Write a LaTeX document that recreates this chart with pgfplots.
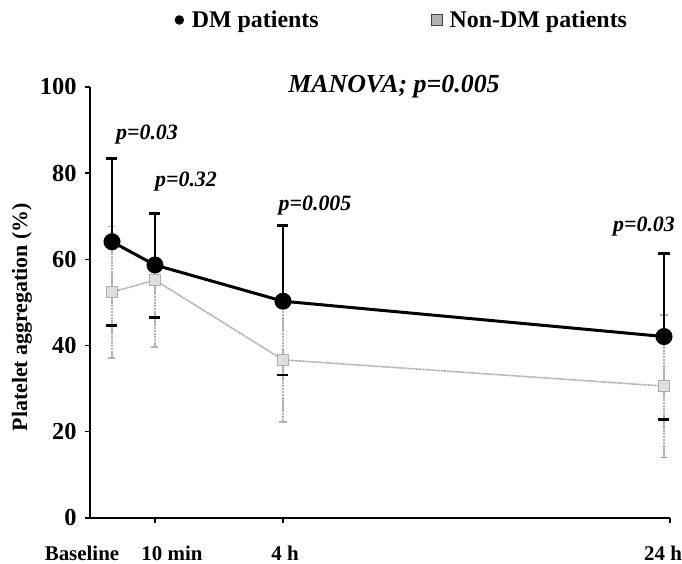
\documentclass[border=0pt]{standalone}
\usepackage{pgfplots}
\pgfplotsset{compat=1.18}
\usepackage{fontspec}
\setmainfont{Liberation Serif}

\begin{document}
\begin{tikzpicture}
\begin{axis}[
    scale only axis,
    width=580bp, height=431bp,
    xmin=0, xmax=580,
    ymin=0, ymax=100,
    axis x line=bottom,
    axis y line=left,
    axis line style={-, line width=1.4bp},
    xtick={65,193,580}, xticklabels={},
    ytick={0,20,...,100},
    tick align=outside,
    major tick length=5bp,
    tick style={line width=1.4bp, black},
    yticklabel style={font=\fontsize{24.5}{24.5}\selectfont\bfseries, xshift=-5bp},
    /pgf/number format/assume math mode=true,
    clip=false,
    legend columns=2,
    legend style={at={(0.146,1.1555)}, anchor=west, draw=none, fill=none,
        inner sep=0pt,
        font=\fontsize{24}{24}\selectfont\bfseries,
        /tikz/every odd column/.append style={column sep=6bp},
        /tikz/every even column/.append style={column sep=110bp}},
    legend cell align=left,
]

% legend
\addlegendimage{only marks, mark=*, mark size=4.5bp, black}
\addlegendentry{DM patients}
\addlegendimage{only marks, mark=square*, mark size=5.5bp,
    mark options={fill=gray!60, draw=gray!50!black}}
\addlegendentry{Non-DM patients}

% Non-DM patients (mean +- SD)
\addplot[forget plot, gray!60, line width=1.6bp,
    dash pattern=on 2.5bp off 0.6bp,
    mark=square*, mark size=5.5bp,
    mark options={solid, fill=gray!25, draw=gray!65, line width=1.2bp},
    error bars/.cd, y dir=both, y explicit,
    error bar style={line width=1.4bp, gray!60, dash pattern=on 2.5bp off 0.6bp},
    error mark options={rotate=90, solid, gray!60, line width=1.4bp, mark size=3.5bp}]
coordinates {
    (22,52.4)  +- (0,15.3)
    (65,55.2)  +- (0,15.5)
    (193,36.7) +- (0,14.4)
    (574,30.6) +- (0,16.5)
};

% DM patients (mean + SD)
\addplot[forget plot, black, line width=3bp,
    mark=*, mark size=7bp,
    error bars/.cd, y dir=plus, y explicit,
    error bar style={line width=2.8bp, black},
    error mark options={rotate=90, black, line width=2.8bp, mark size=5.5bp}]
coordinates {
    (22,64.1)  +- (0,19.3)
    (65,58.7)  +- (0,12.0)
    (193,50.3) +- (0,17.5)
    (574,42.1) +- (0,19.2)
};

% DM lower SD caps
\addplot[forget plot, only marks, black, mark=-, mark size=5.5bp,
    mark options={line width=2.8bp}]
coordinates {(22,44.6) (65,46.5) (193,33.2) (574,22.8)};

% x labels
\node[anchor=base, font=\fontsize{21}{21}\selectfont\bfseries] at (axis cs:-8,0) [yshift=-42bp] {Baseline};
\node[anchor=base, font=\fontsize{21}{21}\selectfont\bfseries] at (axis cs:82,0) [yshift=-42bp] {10 min};
\node[anchor=base, font=\fontsize{21}{21}\selectfont\bfseries] at (axis cs:195,0) [yshift=-42bp] {4 h};
\node[anchor=base, font=\fontsize{21}{21}\selectfont\bfseries] at (axis cs:573,0) [yshift=-42bp] {24 h};

% y label
\node[rotate=90, font=\fontsize{22}{22}\selectfont\bfseries] at (axis cs:-68,46.6) {Platelet aggregation (\%)};

% annotations
\node[anchor=base, font=\fontsize{26}{26}\selectfont\bfseries\itshape] at (axis cs:304,98.8) {MANOVA; p=0.005};
\node[anchor=base, font=\fontsize{22}{22}\selectfont\bfseries\itshape] at (axis cs:57,87.9) {p=0.03};
\node[anchor=base, font=\fontsize{22}{22}\selectfont\bfseries\itshape] at (axis cs:96,76.8) {p=0.32};
\node[anchor=base, font=\fontsize{22}{22}\selectfont\bfseries\itshape] at (axis cs:225,71.4) {p=0.005};
\node[anchor=base, font=\fontsize{22}{22}\selectfont\bfseries\itshape] at (axis cs:554,66.4) {p=0.03};
\end{axis}
\pgfresetboundingbox
\path[use as bounding box] (-90bp,-46bp) rectangle (592bp,518bp);
\end{tikzpicture}
\end{document}
